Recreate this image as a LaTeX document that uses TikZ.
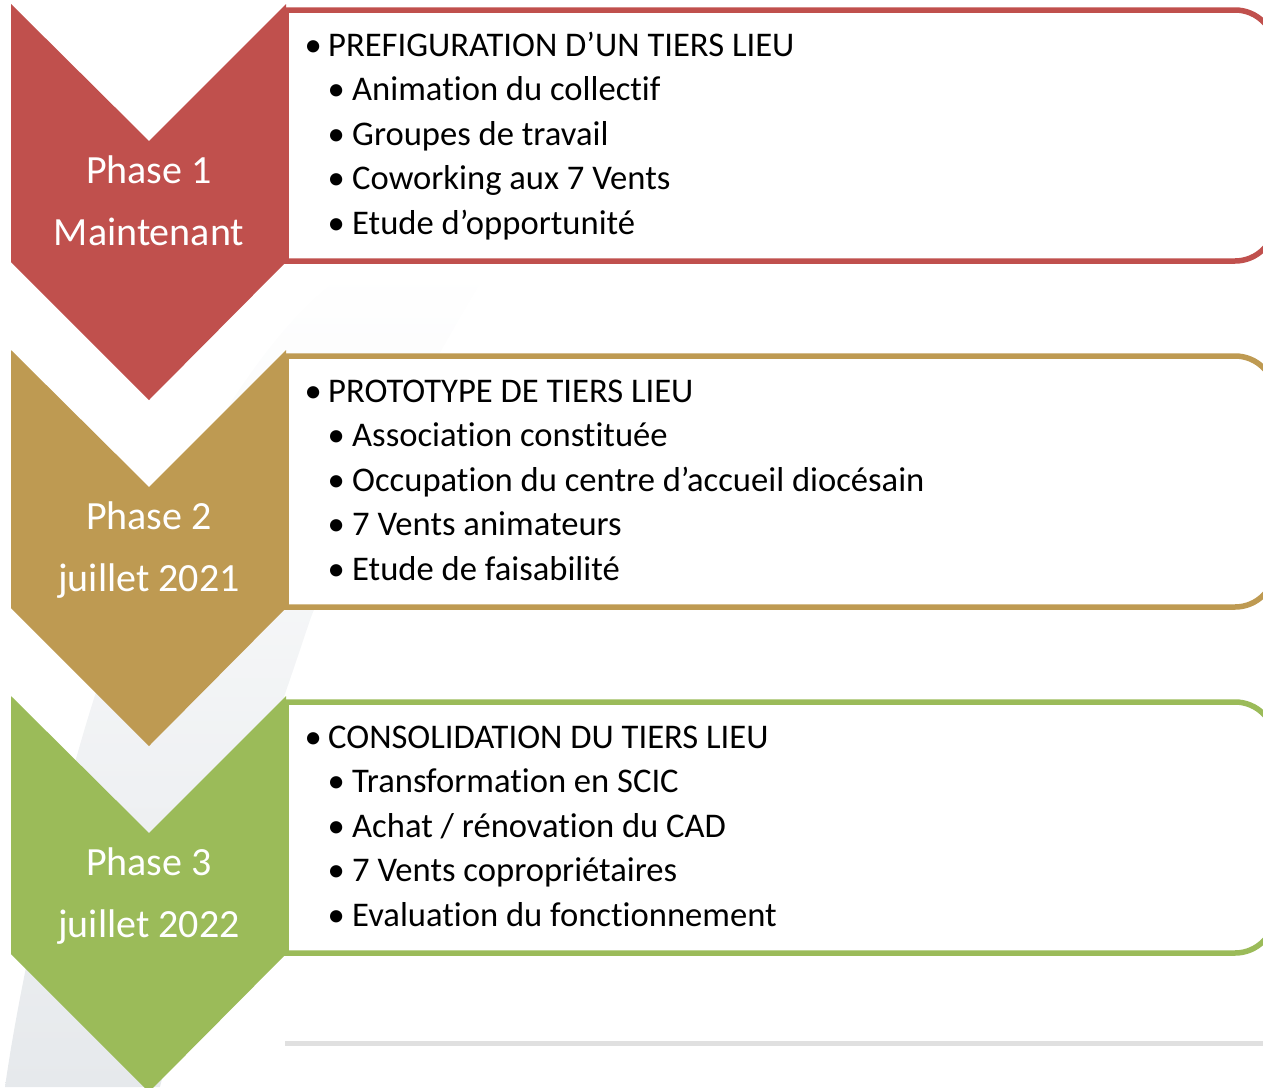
\documentclass[tikz,border=0pt]{standalone}
\usepackage{fontspec}
\setmainfont{Carlito}[Ligatures=NoCommon]
\definecolor{cRed}{HTML}{C0504D}
\definecolor{cGold}{HTML}{BE9A52}
\definecolor{cGreen}{HTML}{9BBB59}
\definecolor{swoosh}{HTML}{E6E9EC}
\newcommand{\headbul}{\llap{\makebox[30pt]{•}}}
\newcommand{\subbul}{\llap{\makebox[32pt]{•}}}
\begin{document}
\begin{tikzpicture}[x=1pt,y=-1pt,
  chev/.style={fill=#1,draw=none},
  panel/.style={draw=#1,line width=5.5pt,fill=white},
  phase/.style={text=white,font=\fontsize{40}{40}\selectfont,anchor=base,inner sep=0pt},
  head/.style={font=\fontsize{34.6}{34.6}\selectfont,anchor=base west,inner sep=0pt},
  item/.style={font=\fontsize{34.6}{34.6}\selectfont,anchor=base west,inner sep=0pt}]
\useasboundingbox (0,0) rectangle (1263,1087);
\clip (0,0) rectangle (1263,1087);
% faint background swoosh
\shade[top color=white, middle color=swoosh, bottom color=swoosh]
   (5,1087) .. controls (20,980) and (60,800) .. (100,680)
   .. controls (170,480) and (260,340) .. (330,285)
   .. controls (380,272) and (440,268) .. (490,268)
   .. controls (420,380) and (340,540) .. (310,620)
   .. controls (250,800) and (190,960) .. (160,1087) -- cycle;
\draw[line width=5pt,black!12] (285,1043) -- (1263,1043);
% panels and chevrons
\foreach \c/\dy [count=\i] in {cRed/0,cGold/346,cGreen/692}{
  \draw[panel=\c] (286,10+\dy) -- (1235,10+\dy)
     arc[start angle=90,end angle=0,radius=40pt] -- (1275,221+\dy)
     arc[start angle=0,end angle=-90,radius=40pt] -- (286,261+\dy) -- cycle;
  \fill[chev=\c] (11,4+\dy) -- (149,141+\dy) -- (286,4+\dy) -- (286,262+\dy)
     -- (149,400+\dy) -- (11,262+\dy) -- cycle;
}
% phase labels
\node[phase] (p1a) at (149,183) {Phase 1};
\node[phase] (p1b) at (149,245) {Maintenant};
\node[phase] (p2a) at (149,529) {Phase 2};
\node[phase] (p2b) at (149,591) {juillet 2021};
\node[phase] (p3a) at (149,875) {Phase 3};
\node[phase] (p3b) at (149,937) {juillet 2022};
% panel 1
\node[head] (h1) at (328,56) {\headbul PREFIGURATION D’UN TIERS LIEU};
\node[item] (a1) at (352,100.6) {\subbul Animation du collectif};
\node[item] (a2) at (352,145.2) {\subbul Groupes de travail};
\node[item] (a3) at (352,189.8) {\subbul Coworking aux 7 Vents};
\node[item] (a4) at (352,234.4) {\subbul Etude d’opportunité};
% panel 2
\node[head] (h2) at (328,402) {\headbul PROTOTYPE DE TIERS LIEU};
\node[item] (b1) at (352,446.6) {\subbul Association constituée};
\node[item] (b2) at (352,491.2) {\subbul Occupation du centre d’accueil diocésain};
\node[item] (b3) at (352,535.8) {\subbul 7 Vents animateurs};
\node[item] (b4) at (352,580.4) {\subbul Etude de faisabilité};
% panel 3
\node[head] (h3) at (328,748) {\headbul CONSOLIDATION DU TIERS LIEU};
\node[item] (c1) at (352,792.6) {\subbul Transformation en SCIC};
\node[item] (c2) at (352,837.2) {\subbul Achat / rénovation du CAD};
\node[item] (c3) at (352,881.8) {\subbul 7 Vents copropriétaires};
\node[item] (c4) at (352,926.4) {\subbul Evaluation du fonctionnement};
\end{tikzpicture}
\end{document}
